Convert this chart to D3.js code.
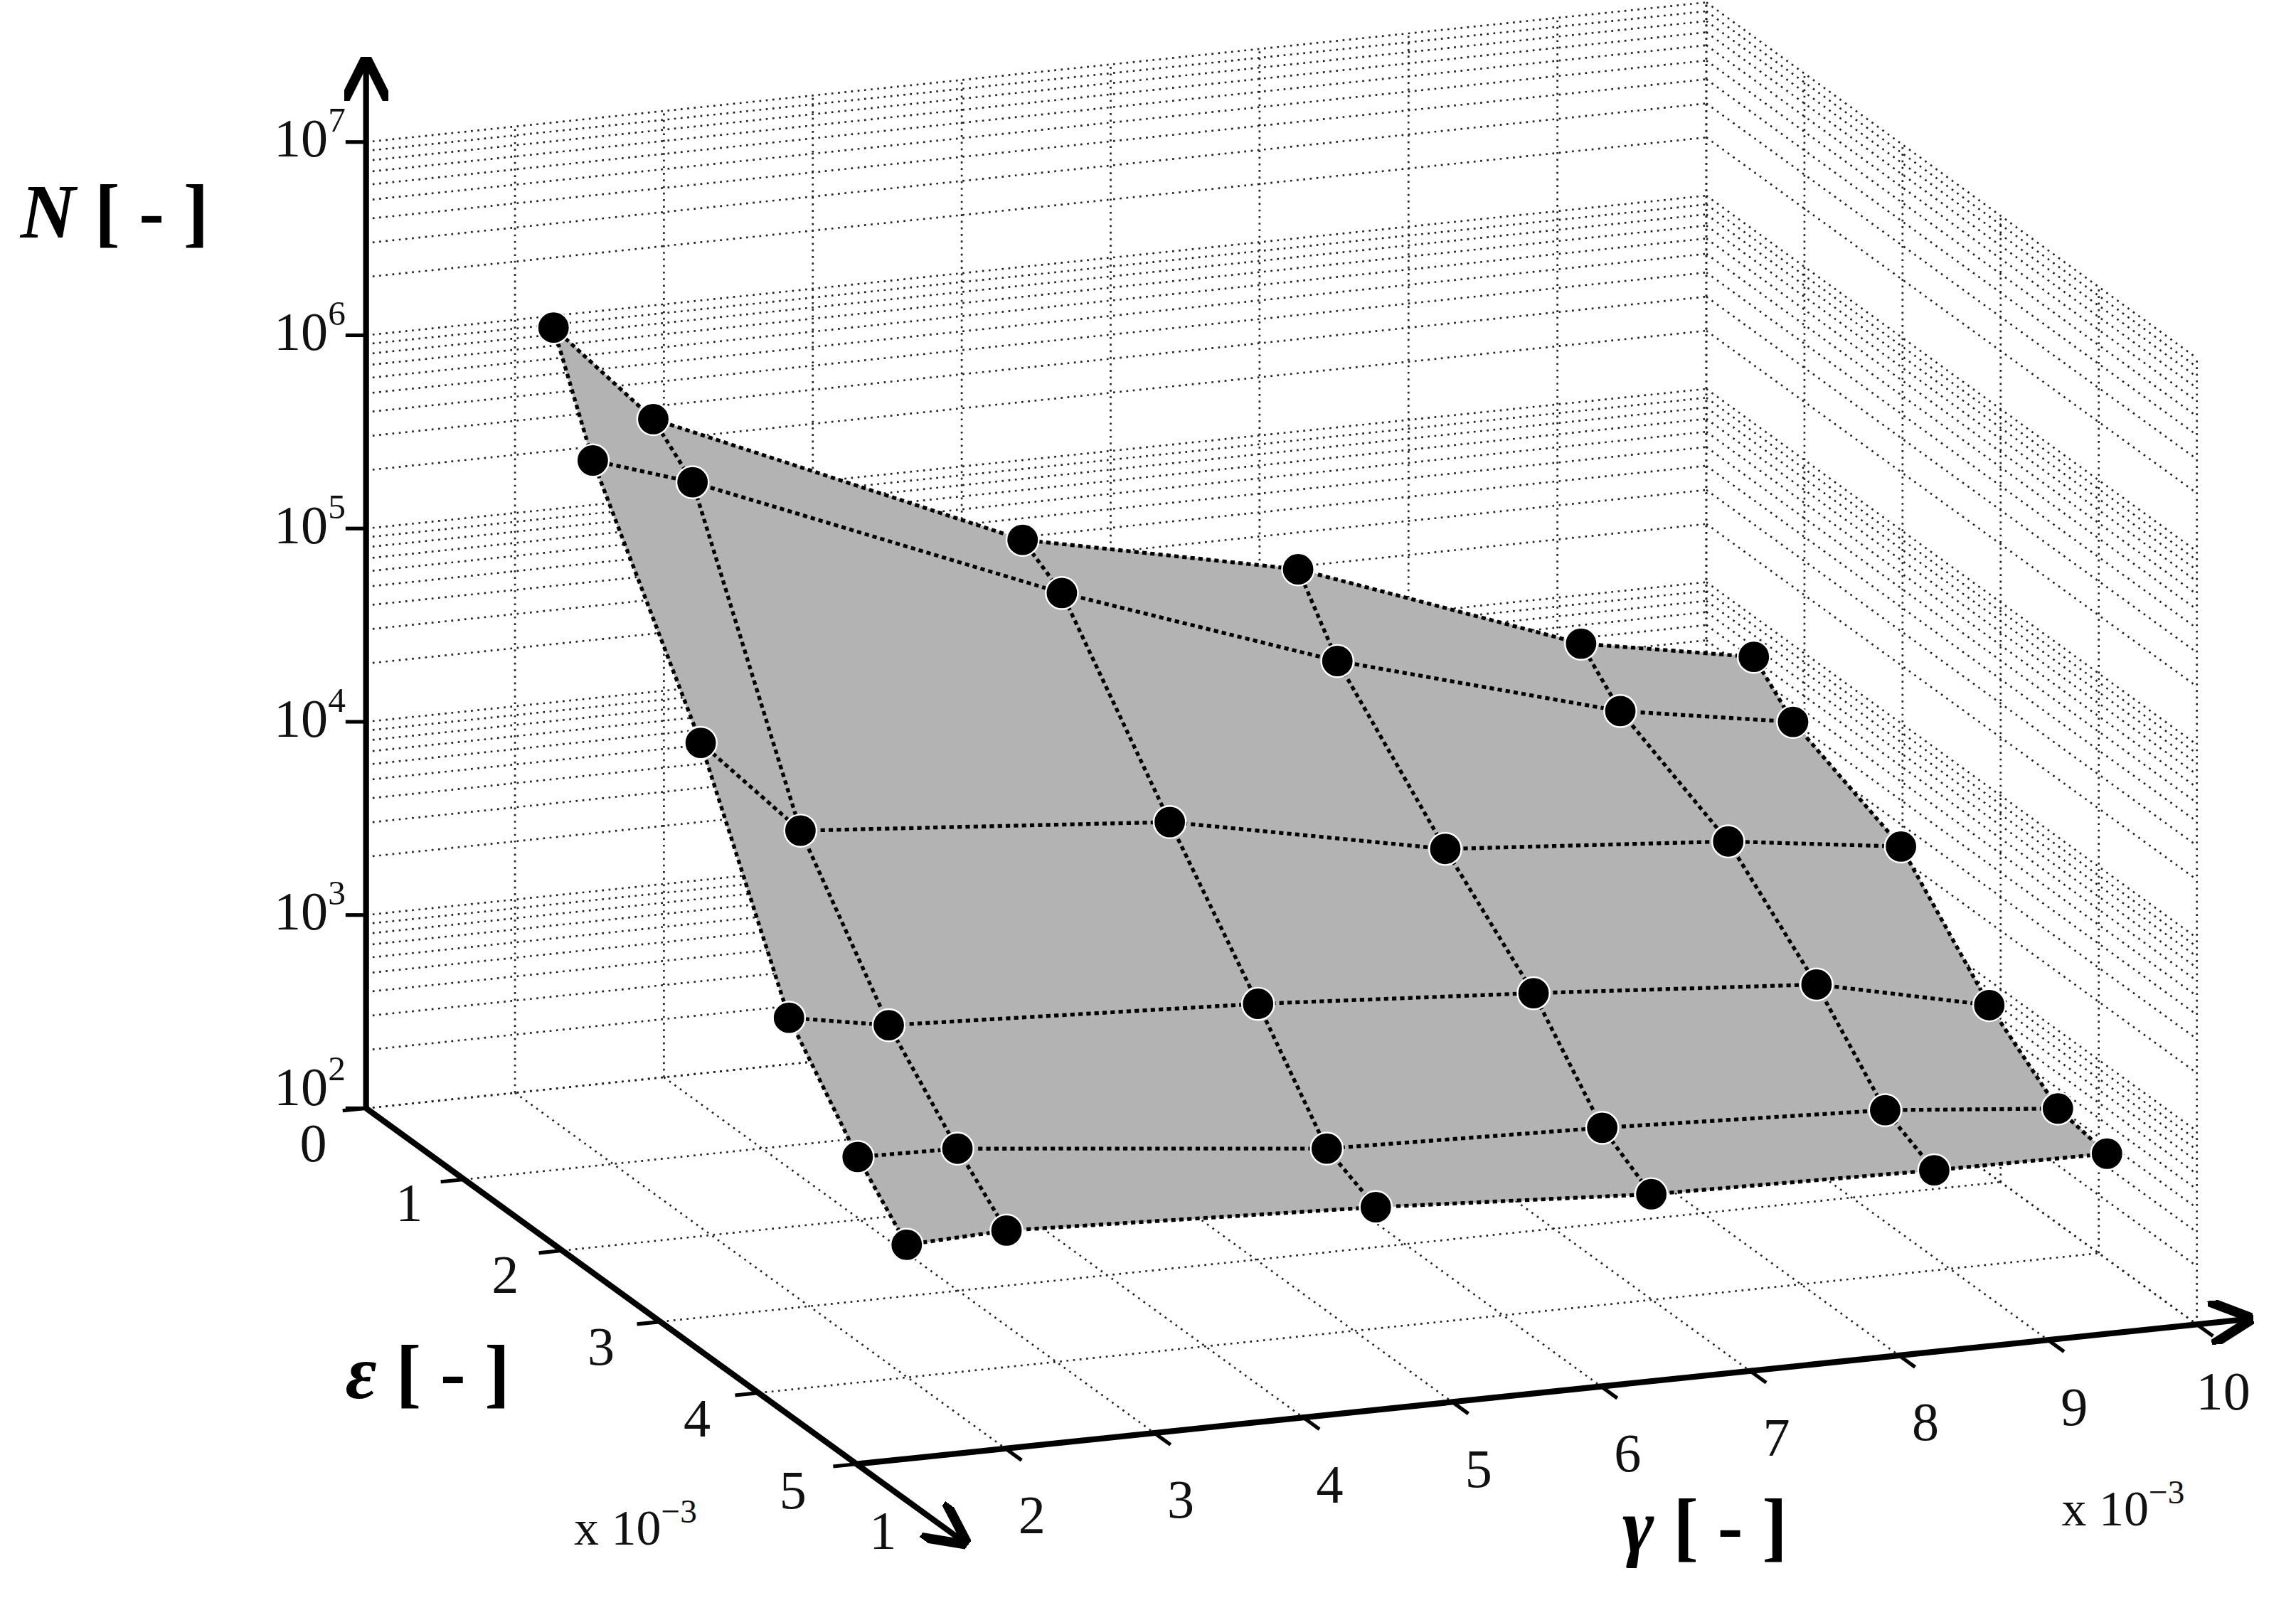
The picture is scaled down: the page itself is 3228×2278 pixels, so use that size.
<!DOCTYPE html>
<html><head><meta charset="utf-8">
<script src="https://cdn.jsdelivr.net/npm/d3@7"></script>
<style>body{margin:0;background:#fff}</style>
</head><body>
<svg id="chart" width="3228" height="2278" viewBox="0 0 1568 1106.5"></svg>
<script>
// data (gamma, eps in units of 1e-3)
var gammaVals = [1.6, 2.27, 4.75, 6.6, 8.5, 9.66];
var epsVals = [1.0, 1.4, 2.5, 3.4, 4.1, 4.6];
// N[row = eps][col = gamma]
var nVals = [
  [2.29e6, 6.8e5, 1.02e5, 5.1e4, 1.48e4, 1.02e4],
  [6.6e5, 4.5e5, 7.6e4, 2.4e4, 9.3e3, 6.6e3],
  [5.8e4, 1.8e4, 1.26e4, 6.5e3, 5.0e3, 3.8e3],
  [4.7e3, 3.8e3, 3.1e3, 2.5e3, 1.95e3, 1.23e3],
  [1.62e3, 1.58e3, 1.0e3, 9.1e2, 7.9e2, 6.5e2],
  [8.7e2, 9.1e2, 7.6e2, 6.3e2, 5.9e2, 5.8e2]
];
var gammaTicks = [1,2,3,4,5,6,7,8,9,10];
var epsTicks = [0,1,2,3,4,5];
var nTicks = [1e2,1e3,1e4,1e5,1e6,1e7];

var svg = d3.select('#chart');
var font = '"Liberation Serif", "DejaVu Serif", serif';

// affine projection: unit vectors in screen space
var gs = d3.scaleLinear().domain([1,10]).range([0,9]);
var es = d3.scaleLinear().domain([0,5]).range([0,5]);
var ns = d3.scaleLog().domain([1e2,1e7]).range([0,5]);
function P(g, e, n) {
  var a = gs(g), b = es(e), c = ns(n);
  return [250 + 101.7*a + 67*b, 757 - 10.6*a + 48.6*b - 132*c];
}
var line = d3.line();

// grid
var grid = svg.append('g').attr('fill','none').attr('stroke','#222')
  .attr('stroke-width',1.3).attr('stroke-dasharray','1.3,3.2');
var minor = [];
for (var d = 2; d < 7; d++) for (var k = 1; k < 10; k++) minor.push(k*Math.pow(10,d));
minor.push(1e7);
// back wall eps=0
minor.forEach(function(n){ grid.append('path').attr('d', line([P(1,0,n),P(10,0,n)])) });
gammaTicks.forEach(function(g){ grid.append('path').attr('d', line([P(g,0,1e2),P(g,0,1e7)])) });
// right wall gamma=10
minor.forEach(function(n){ grid.append('path').attr('d', line([P(10,0,n),P(10,5,n)])) });
epsTicks.forEach(function(e){ grid.append('path').attr('d', line([P(10,e,1e2),P(10,e,1e7)])) });
// floor
gammaTicks.forEach(function(g){ grid.append('path').attr('d', line([P(g,0,1e2),P(g,5,1e2)])) });
epsTicks.forEach(function(e){ grid.append('path').attr('d', line([P(1,e,1e2),P(10,e,1e2)])) });

// surface
var surf = svg.append('g');
for (var i = 0; i < epsVals.length-1; i++) {
  for (var j = 0; j < gammaVals.length-1; j++) {
    var q = [P(gammaVals[j],epsVals[i],nVals[i][j]), P(gammaVals[j+1],epsVals[i],nVals[i][j+1]),
             P(gammaVals[j+1],epsVals[i+1],nVals[i+1][j+1]), P(gammaVals[j],epsVals[i+1],nVals[i+1][j])];
    surf.append('path').attr('d', line(q)+'Z').attr('fill','#b3b3b3').attr('stroke','#b3b3b3').attr('stroke-width',0.8);
  }
}
var mesh = svg.append('g').attr('fill','none').attr('stroke','#000')
  .attr('stroke-width',2.6).attr('stroke-dasharray','3,2.5');
epsVals.forEach(function(e,i){
  mesh.append('path').attr('d', line(gammaVals.map(function(g,j){ return P(g,e,nVals[i][j]) })));
});
gammaVals.forEach(function(g,j){
  mesh.append('path').attr('d', line(epsVals.map(function(e,i){ return P(g,e,nVals[i][j]) })));
});
var pts = [];
epsVals.forEach(function(e,i){ gammaVals.forEach(function(g,j){ pts.push(P(g,e,nVals[i][j])) }) });
svg.append('g').selectAll('circle').data(pts).enter().append('circle')
  .attr('cx', function(d){ return d[0] }).attr('cy', function(d){ return d[1] })
  .attr('r', 11).attr('fill','#000').attr('stroke','#fff').attr('stroke-width',1.2);

// axes
svg.append('defs').append('marker').attr('id','arr').attr('viewBox','0 0 10 10')
  .attr('refX',9).attr('refY',5).attr('markerWidth',30).attr('markerHeight',30)
  .attr('markerUnits','userSpaceOnUse').attr('orient','auto')
  .append('path').attr('d','M0,0 L10,5 L0,10').attr('fill','none').attr('stroke','#000').attr('stroke-width',2.2);
var ax = svg.append('g').attr('stroke','#000').attr('stroke-width',4).attr('fill','none');
var o = P(1,0,1e2);
ax.append('path').attr('d', line([o,[o[0],42]])).attr('marker-end','url(#arr)');
var e5 = P(1,5,1e2), e6 = P(1,6.1,1e2);
ax.append('path').attr('d', line([o,e6])).attr('marker-end','url(#arr)');
var g11 = P(10.35,5,1e2);
ax.append('path').attr('d', line([e5,g11])).attr('marker-end','url(#arr)');

var tk = svg.append('g').attr('stroke','#000').attr('stroke-width',2.5);
nTicks.forEach(function(n){ var p = P(1,0,n); tk.append('line').attr('x1',p[0]-14).attr('x2',p[0]).attr('y1',p[1]).attr('y2',p[1]) });
epsTicks.forEach(function(e){ var p = P(1,e,1e2); tk.append('line').attr('x1',p[0]-16).attr('y1',p[1]+1.6).attr('x2',p[0]).attr('y2',p[1]) });
gammaTicks.forEach(function(g){ var p = P(g,5,1e2); tk.append('line').attr('x1',p[0]).attr('y1',p[1]).attr('x2',p[0]+11).attr('y2',p[1]+8) });

var txt = svg.append('g').attr('font-family',font).attr('font-size',37).attr('fill','#111');
nTicks.forEach(function(n){
  var p = P(1,0,n);
  var t = txt.append('text').attr('x',p[0]-14).attr('y',p[1]+(n===1e2?-2:10)).attr('text-anchor','end');
  t.append('tspan').text('10');
  t.append('tspan').attr('dy',-17).attr('font-size',24).text(Math.round(Math.log10(n)));
});
epsTicks.forEach(function(e){
  var p = P(1,e,1e2);
  txt.append('text').attr('x',p[0]-36-e*1.5).attr('y',p[1]+(e===0?36:28)+e*0.5).attr('text-anchor','middle').text(e);
});
gammaTicks.forEach(function(g){
  var p = P(g,5,1e2);
  txt.append('text').attr('x',p[0]+18).attr('y',p[1]+58).attr('text-anchor','middle').text(g);
});
function mult(x,y){
  var t = txt.append('text').attr('x',x).attr('y',y).attr('font-size',34);
  t.append('tspan').text('x 10');
  t.append('tspan').attr('dy',-15).attr('font-size',23).text('\u22123');
}
mult(392,1055); mult(1408,1042);

var lab = svg.append('g').attr('font-family',font).attr('font-weight','bold').attr('font-size',52).attr('fill','#000');
function title(x,y,sym){
  var t = lab.append('text').attr('x',x).attr('y',y);
  t.append('tspan').attr('font-style','italic').text(sym);
  t.append('tspan').text(' [ - ]');
}
title(14,162,'N'); title(236,955,'\u03b5'); title(1108,1060,'\u03b3');
</script>
</body></html>
